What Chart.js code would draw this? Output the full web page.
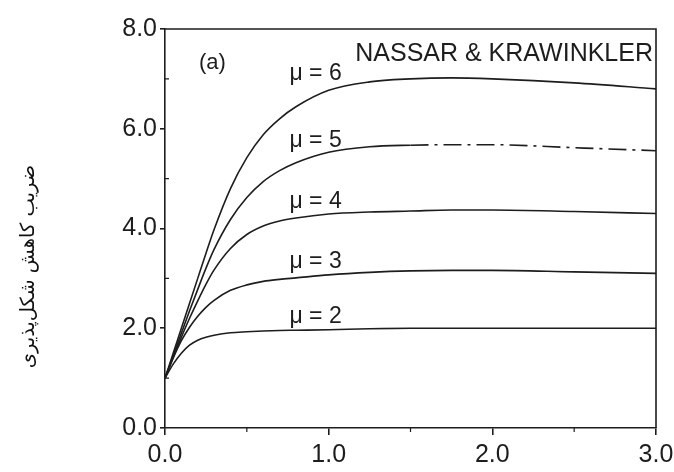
<!DOCTYPE html>
<html>
<head>
<meta charset="utf-8">
<script src="https://cdn.jsdelivr.net/npm/chart.js@4/dist/chart.umd.min.js"></script>
<style>
  html, body { margin: 0; padding: 0; background: #fff; }
  #wrap { width: 674px; height: 472px; position: relative; }
</style>
</head>
<body>
<div id="wrap"><canvas id="c"></canvas></div>
<script>
// Period values (s) shared by every curve
const periods = [0, 0.05, 0.1, 0.15, 0.2, 0.25, 0.3, 0.4, 0.5, 0.6, 0.7, 0.8, 1.0, 1.25, 1.5, 1.75, 2.0, 2.5, 3.0];

// Strength reduction factor for each target ductility
const rMu2 = [1.0, 1.28, 1.5, 1.66, 1.76, 1.82, 1.86, 1.91, 1.93, 1.945, 1.955, 1.96, 1.97, 1.99, 2.0, 2.0, 2.0, 2.0, 2.0];
const rMu3 = [1.0, 1.4, 1.75, 2.02, 2.24, 2.42, 2.56, 2.76, 2.87, 2.94, 2.98, 3.01, 3.07, 3.12, 3.15, 3.16, 3.16, 3.13, 3.1];
const rMu4 = [1.0, 1.42, 1.82, 2.2, 2.55, 2.88, 3.17, 3.6, 3.88, 4.05, 4.15, 4.21, 4.29, 4.33, 4.35, 4.37, 4.37, 4.34, 4.3];
const rMu5 = [1.0, 1.45, 1.9, 2.35, 2.78, 3.2, 3.58, 4.18, 4.62, 4.94, 5.16, 5.32, 5.53, 5.64, 5.67, 5.68, 5.68, 5.62, 5.56];
const rMu6 = [1.0, 1.5, 2.0, 2.5, 3.0, 3.5, 3.98, 4.8, 5.42, 5.88, 6.2, 6.44, 6.77, 6.94, 7.0, 7.02, 7.0, 6.92, 6.8];

// Curve captions and where they sit (data units)
const curveLabels = ['μ = 2', 'μ = 3', 'μ = 4', 'μ = 5', 'μ = 6'];
const labelX = [0.92, 0.92, 0.92, 0.92, 0.92];
const labelY = [2.24, 3.33, 4.53, 5.77, 7.11];

// Axis ticks
const xTicks = [0, 1, 2, 3];
const yTicks = [0, 2, 4, 6, 8];
const xMinorTicks = [0.5, 1.5, 2.5];
const yMinorTicks = [1, 3, 5, 7];

// From this period on, the mu = 5 curve is drawn dash-dot
const dashFrom = 1.3;

const panelTag = '(a)';
const sourceTag = 'NASSAR & KRAWINKLER';
const yTitle = 'ضریب کاهش شکل‌پذیری';

const ink = '#1d1d1d';

function makeSet(values, name, dashed) {
  return {
    label: name,
    data: periods.map((t, i) => ({ x: t, y: values[i] })),
    borderColor: ink,
    borderWidth: 1.6,
    pointRadius: 0,
    fill: false,
    cubicInterpolationMode: 'monotone',
    segment: dashed ? {
      borderDash: ctx => (ctx.p0.parsed.x >= dashFrom ? [18, 6, 3, 6] : undefined)
    } : undefined
  };
}

const datasets = [
  makeSet(rMu2, curveLabels[0], false),
  makeSet(rMu3, curveLabels[1], false),
  makeSet(rMu4, curveLabels[2], false),
  makeSet(rMu5, curveLabels[3], true),
  makeSet(rMu6, curveLabels[4], false)
];

// Box frame, minor ticks and text annotations
const decor = {
  id: 'decor',
  afterDatasetsDraw(chart) {
    const { ctx, chartArea: a, scales: { x, y } } = chart;
    ctx.save();
    ctx.strokeStyle = ink;
    ctx.lineWidth = 1.6;
    ctx.beginPath();
    ctx.moveTo(a.left, a.top);
    ctx.lineTo(a.right, a.top);
    ctx.lineTo(a.right, a.bottom);
    ctx.stroke();

    ctx.lineWidth = 1.2;
    ctx.beginPath();
    yMinorTicks.forEach(v => {
      const py = y.getPixelForValue(v);
      ctx.moveTo(a.left, py);
      ctx.lineTo(a.left + 4, py);
    });
    xMinorTicks.forEach(v => {
      const px = x.getPixelForValue(v);
      ctx.moveTo(px, a.bottom);
      ctx.lineTo(px, a.bottom + 4);
    });
    ctx.stroke();

    ctx.fillStyle = ink;
    ctx.textBaseline = 'middle';
    ctx.textAlign = 'center';
    ctx.font = '23px "Liberation Sans", Arial, sans-serif';
    curveLabels.forEach((t, i) => {
      ctx.fillText(t, x.getPixelForValue(labelX[i]), y.getPixelForValue(labelY[i]));
    });
    ctx.font = '22px "Liberation Sans", Arial, sans-serif';
    ctx.fillText(panelTag, x.getPixelForValue(0.29), y.getPixelForValue(7.31));

    ctx.textAlign = 'right';
    ctx.font = '25px "Liberation Sans", Arial, sans-serif';
    ctx.fillText(sourceTag, a.right - 3, y.getPixelForValue(7.5), 298);

    // Rotated Persian axis title
    ctx.save();
    ctx.translate(29, (a.top + a.bottom) / 2 + 38);
    ctx.rotate(-Math.PI / 2);
    ctx.textAlign = 'center';
    ctx.fillStyle = '#111';
    ctx.font = '19.5px "DejaVu Sans", sans-serif';
    ctx.fillText(yTitle, 0, 0);
    ctx.restore();

    ctx.restore();
  }
};

const tickFont = { family: '"Liberation Sans", Arial, sans-serif', size: 25 };

new Chart(document.getElementById('c'), {
  type: 'line',
  data: { datasets },
  options: {
    responsive: true,
    maintainAspectRatio: false,
    animation: false,
    events: [],
    layout: { padding: { top: 29, right: 18, left: 0, bottom: 0 } },
    plugins: { legend: { display: false }, tooltip: { enabled: false } },
    scales: {
      x: {
        type: 'linear',
        min: 0, max: 3,
        afterBuildTicks: s => { s.ticks = xTicks.map(v => ({ value: v })); },
        ticks: { font: tickFont, color: ink, padding: 5, maxRotation: 0, callback: v => v.toFixed(1) },
        grid: { drawOnChartArea: false, drawTicks: true, tickLength: 7, color: ink, lineWidth: 1.6 },
        border: { display: true, color: ink, width: 1.6 },
        afterFit: s => { s.height = 44; s.paddingLeft = 0; s.paddingRight = 0; }
      },
      y: {
        type: 'linear',
        min: 0, max: 8,
        afterBuildTicks: s => { s.ticks = yTicks.map(v => ({ value: v })); },
        ticks: { font: tickFont, color: ink, padding: 3, callback: v => v.toFixed(1) },
        grid: { drawOnChartArea: false, drawTicks: true, tickLength: 5, color: ink, lineWidth: 1.6 },
        border: { display: true, color: ink, width: 1.6 },
        afterFit: s => { s.width = 165; s.paddingTop = 0; s.paddingBottom = 0; }
      }
    }
  },
  plugins: [decor]
});
</script>
</body>
</html>
